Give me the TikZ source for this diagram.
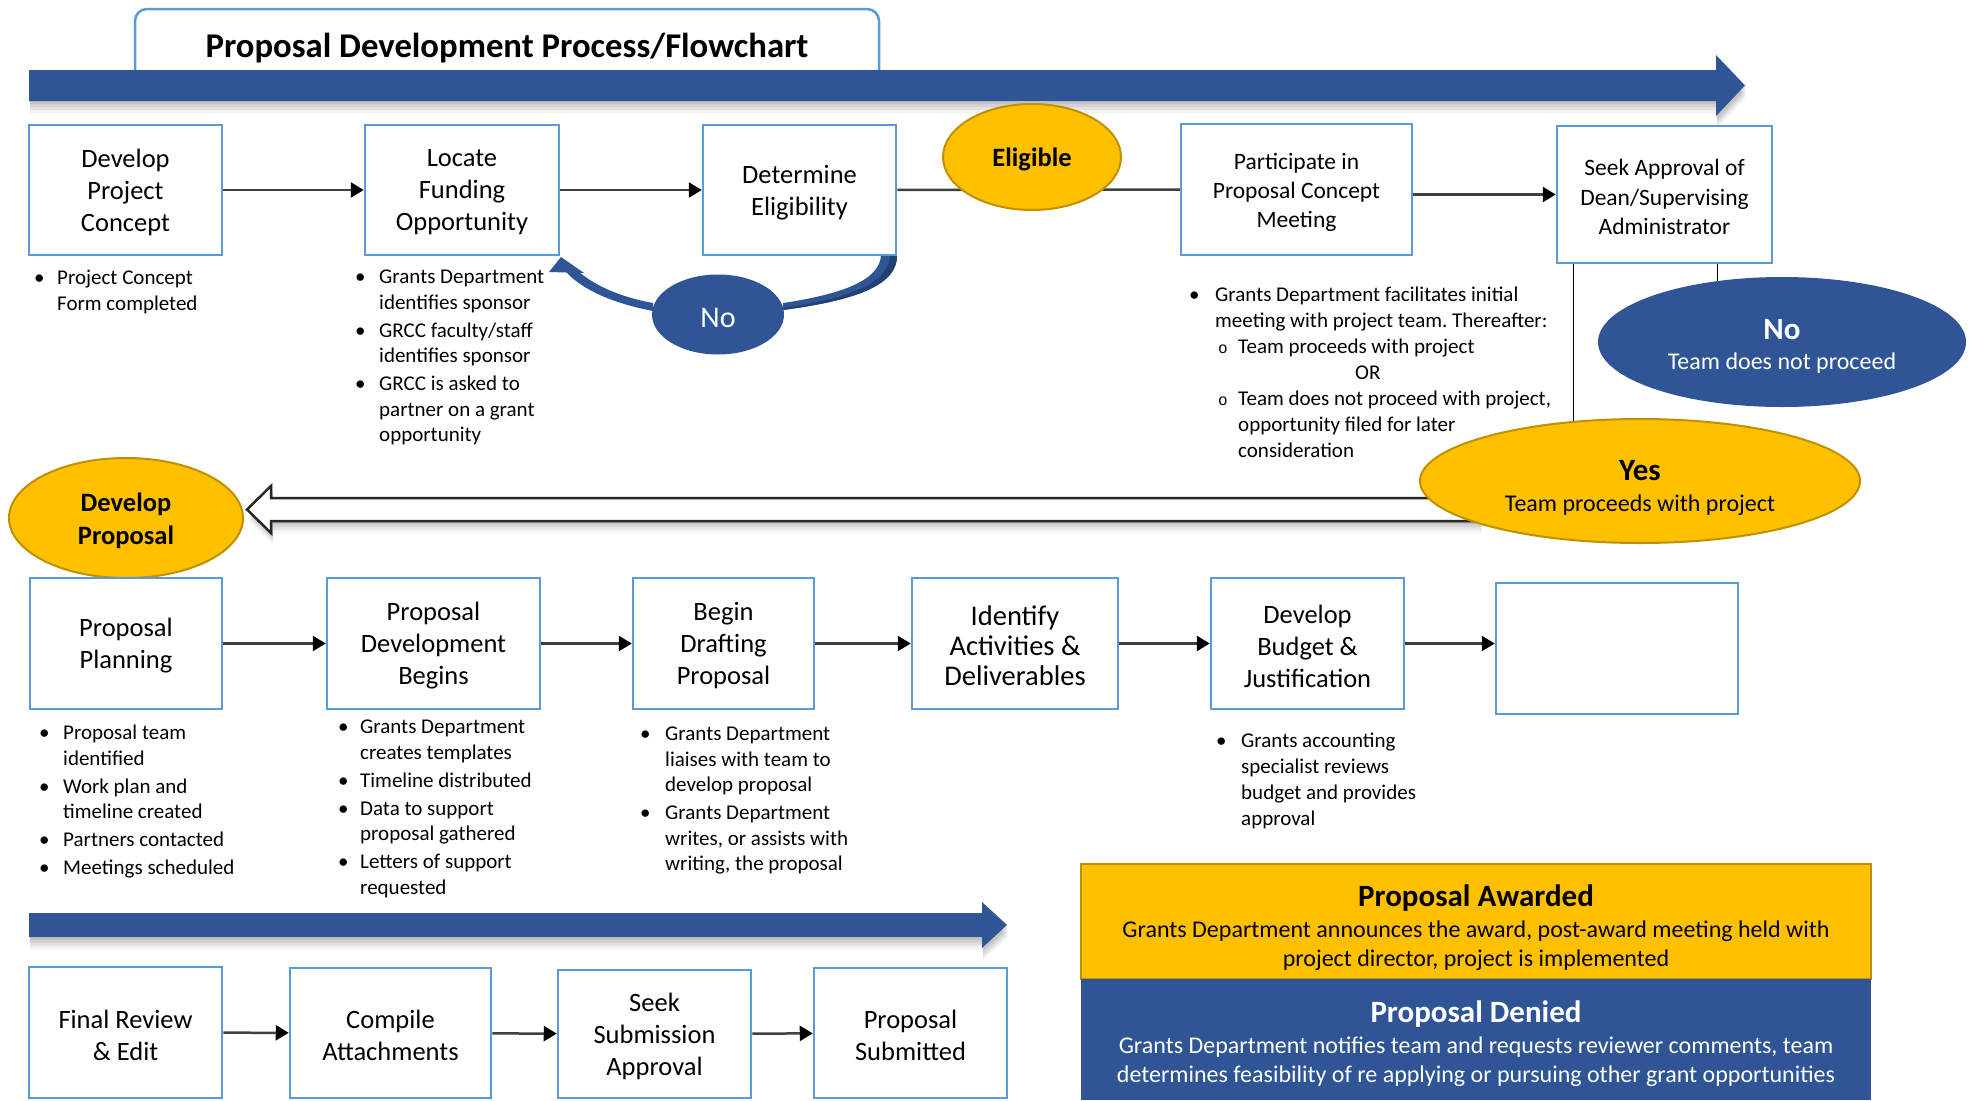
\documentclass[tikz,border=0pt]{standalone}
\usepackage{fontspec}
\setmainfont{Carlito}
\newfontfamily\monof{Liberation Mono}
\frenchspacing
\usetikzlibrary{arrows.meta,shapes.geometric,calc}
\definecolor{dblue}{RGB}{47,85,151}
\definecolor{lblue}{RGB}{91,155,213}
\definecolor{gold}{RGB}{255,192,0}
\definecolor{goldline}{RGB}{191,144,0}
\definecolor{lineg}{RGB}{64,64,64}
\pgfdeclarelayer{bg}
\pgfdeclarelayer{canvas}
\pgfsetlayers{canvas,bg,main}
\tikzset{
  boxst/.style={draw=lblue, line width=2.5pt, fill=white, inner sep=0pt},
  boxtxt/.style={inner sep=0pt, align=center, font=\fontsize{26.5}{32}\selectfont},
  arr/.style={draw=lineg, line width=2.5pt, -{Triangle[length=13pt,width=15pt,color=black]}},
  plainln/.style={draw=lineg, line width=2.5pt},
  thinln/.style={draw=black, line width=1.3pt},
  ell/.style={ellipse, inner sep=0pt, line width=2pt, align=center},
  blist/.style={anchor=base west, inner sep=0pt, font=\fontsize{21}{25.5}\selectfont},
  lbl/.style={inner sep=0pt, align=center}
}
% box with its text: name, x, y, width, height, extra text style, text
\newcommand\bx[7]{%
  \node[boxst, minimum width=#4, minimum height=#5] (#1) at (#2,#3) {};
  \node[boxtxt, #6] (#1t) at ($(#1)+(0,2.5)$) {#7};}
\begin{document}
\begin{tikzpicture}[x=1pt,y=-1pt]
\useasboundingbox (0,0) rectangle (1975,1100);
\begin{pgfonlayer}{canvas}
\fill[white] (0,0) rectangle (1975,1100);
\end{pgfonlayer}

% ---------- title ----------
\node[draw=lblue, line width=2.5pt, rounded corners=12pt, fill=white, minimum width=744pt, minimum height=90pt, inner sep=0pt] (title) at (507,54) {};
\node[lbl, font=\fontsize{34.7}{34.7}\selectfont\bfseries] (titletext) at (507,48) {Proposal Development Process/Flowchart};

% ---------- top blue arrow ----------
\foreach \d/\o in {3/0.07,6/0.07,9/0.06,12/0.05}{
  \fill[black, opacity=\o, shift={(1,\d)}] (29,70) -- (1716,70) -- (1716,55) -- (1745,85.5) -- (1716,116) -- (1716,101) -- (29,101) -- cycle;}
\fill[dblue] (29,70) -- (1716,70) -- (1716,55) -- (1745,85.5) -- (1716,116) -- (1716,101) -- (29,101) -- cycle;

% ---------- row 1 ----------
\bx{dpc}{125.5}{190}{193pt}{130pt}{}{Develop\\Project\\Concept}
\bx{lfo}{462}{190}{194pt}{130pt}{}{Locate\\Funding\\Opportunity}
\bx{de}{799.5}{190}{193pt}{130pt}{}{Determine\\Eligibility}
\bx{part}{1296.5}{189.5}{231pt}{131pt}{font=\fontsize{23.5}{29}\selectfont}{Participate in\\Proposal Concept\\Meeting}
\bx{sa}{1664.5}{194.5}{215pt}{137pt}{font=\fontsize{23.5}{29.5}\selectfont}{Seek Approval of\\Dean/Supervising\\Administrator}

\draw[arr] (dpc) -- (lfo);
\draw[arr] (lfo) -- (de);
\draw[arr] (part.east |- sa.west) -- (sa.west);

\begin{pgfonlayer}{bg}
  \draw[plainln] (de) -- (part);
  % vertical lines from approval box
  \coordinate (v1) at ($(sa.south west)+(18,0)$);
  \coordinate (v2) at ($(sa.south east)+(-56,0)$);
  \draw[thinln] (v1) -- ++(0,200);
  \draw[thinln] (v2) -- ++(0,60);
  % curved "No" arrow
  \fill[dblue] (897,255) .. controls (898,287) and (850,301) .. (783,310) -- (783,303) .. controls (843,294) and (880,280) .. (881,255) -- cycle;
  \fill[dblue!75!black] (897,255) .. controls (898,287) and (850,301) .. (783,310) -- (783,308) .. controls (846,299) and (890,284) .. (890,255) -- cycle;
  \fill[dblue] (653,311) .. controls (612,303) and (583,290) .. (566,272) -- (579,272) .. controls (596,286) and (620,297) .. (653,303) -- cycle;
  \fill[dblue] (561,257) -- (549,272) -- (584,273) -- cycle;
  % open left arrow with shadow
  \foreach \d/\o in {3/0.10,6/0.08,9/0.06,12/0.04}{
    \fill[black, opacity=\o, shift={(2,\d)}] (247,509.5) -- (271,486) -- (271,498) -- (1480,498) -- (1480,521) -- (271,521) -- (271,533) -- cycle;}
  \filldraw[fill=white, draw=black!85, line width=2.5pt, line join=miter] (247,509.5) -- (271,486) -- (271,498) -- (1490,498) -- (1490,521) -- (271,521) -- (271,533) -- cycle;
\end{pgfonlayer}

\node[ell, fill=gold, draw=goldline, minimum width=178pt, minimum height=106pt] (elig) at (1032,157) {};
\node[lbl, font=\fontsize{26.5}{30}\selectfont\bfseries] (eligt) at (1032,159.5) {Eligible};
\node[ell, fill=dblue, draw=dblue, minimum width=130pt, minimum height=78pt] (nol) at (718,314.5) {};
\node[lbl, text=white, font=\fontsize{30}{30}\selectfont] (nolt) at (718,318) {No};

% row 1 bullets
\node[blist] (b1) at (34,284.5) {\begin{tabular}[t]{@{}p{23pt}@{}l@{}}\textbullet & Project Concept\\ & Form completed\end{tabular}};
\node[blist] (b2) at (355,283.5) {\begin{tabular}[t]{@{}p{24pt}@{}l@{}}\textbullet & Grants Department\\ & identifies sponsor\\[2.5pt]
\textbullet & GRCC faculty/staff\\ & identifies sponsor\\[2.5pt]
\textbullet & GRCC is asked to\\ & partner on a grant\\ & opportunity\end{tabular}};
\node[blist, font=\fontsize{21}{26}\selectfont] (b3) at (1189,301.5) {\begin{tabular}[t]{@{}p{26pt}@{}p{23pt}@{}l@{}}
\textbullet & \multicolumn{2}{@{}l@{}}{Grants Department facilitates initial}\\
 & \multicolumn{2}{@{}l@{}}{meeting with project team. Thereafter:}\\
 & \hspace{3pt}{\monof\fontsize{16}{20}\selectfont o} & Team proceeds with project\\
 & & \hspace{117pt}OR\\
 & \hspace{3pt}{\monof\fontsize{16}{20}\selectfont o} & Team does not proceed with project,\\
 & & opportunity filed for later\\
 & & consideration\end{tabular}};

% No / Yes ellipses
\node[ell, fill=dblue, draw=dblue, minimum width=366pt, minimum height=128pt] (nor) at (1782,342) {};
\node[lbl, text=white, font=\fontsize{31}{31}\selectfont\bfseries] (nort) at (1782,330) {No};
\node[lbl, text=white, font=\fontsize{24}{24}\selectfont] (norb) at (1782,363) {Team does not proceed};
\node[ell, fill=gold, draw=goldline, minimum width=440pt, minimum height=124pt] (yes) at (1640,481) {};
\node[lbl, font=\fontsize{31}{31}\selectfont\bfseries] (yest) at (1640,471) {Yes};
\node[lbl, font=\fontsize{24}{24}\selectfont] (yesb) at (1640,505) {Team proceeds with project};

\node[ell, fill=gold, draw=goldline, minimum width=234pt, minimum height=120pt] (dp) at (126,518) {};
\node[lbl, font=\fontsize{26.5}{33}\selectfont\bfseries] (dpt) at (126,520.5) {Develop\\Proposal};

% ---------- row 2 ----------
\bx{pp}{126}{643.5}{192pt}{131pt}{}{Proposal\\Planning}
\bx{pdb}{433.5}{643.5}{213pt}{131pt}{}{Proposal\\Development\\Begins}
\bx{bdp}{723.5}{643.5}{181pt}{131pt}{}{Begin\\Drafting\\Proposal}
\bx{iad}{1015}{643.5}{206pt}{131pt}{font=\fontsize{28.5}{30}\selectfont}{Identify\\Activities \&\\Deliverables}
\bx{dbj}{1307.5}{643.5}{193pt}{131pt}{}{Develop\\Budget \&\\Justification}
\bx{emp}{1617}{648.5}{242pt}{131pt}{}{}

\draw[arr] (pp) -- (pdb);
\draw[arr] (pdb) -- (bdp);
\draw[arr] (bdp) -- (iad);
\draw[arr] (iad) -- (dbj);
\draw[arr] (dbj.east) -- (dbj.east -| emp.west);

% row 2 bullets
\node[blist] (b4) at (39,739.5) {\begin{tabular}[t]{@{}p{24pt}@{}l@{}}\textbullet & Proposal team\\ & identified\\[2.5pt]
\textbullet & Work plan and\\ & timeline created\\[2.5pt]
\textbullet & Partners contacted\\[2.5pt]
\textbullet & Meetings scheduled\end{tabular}};
\node[blist] (b5) at (338,733.5) {\begin{tabular}[t]{@{}p{22pt}@{}l@{}}\textbullet & Grants Department\\ & creates templates\\[2.5pt]
\textbullet & Timeline distributed\\[2.5pt]
\textbullet & Data to support\\ & proposal gathered\\[2.5pt]
\textbullet & Letters of support\\ & requested\end{tabular}};
\node[blist] (b6) at (640,740.5) {\begin{tabular}[t]{@{}p{25pt}@{}l@{}}\textbullet & Grants Department\\ & liaises with team to\\ & develop proposal\\[2.5pt]
\textbullet & Grants Department\\ & writes, or assists with\\ & writing, the proposal\end{tabular}};
\node[blist, font=\fontsize{21}{26}\selectfont] (b7) at (1216,747.5) {\begin{tabular}[t]{@{}p{25pt}@{}l@{}}\textbullet & Grants accounting\\ & specialist reviews\\ & budget and provides\\ & approval\end{tabular}};

% ---------- bottom blue arrow ----------
\foreach \d/\o in {3/0.07,6/0.07,9/0.06,12/0.05}{
  \fill[black, opacity=\o, shift={(1,\d)}] (29,913) -- (982,913) -- (982,902) -- (1007,925) -- (982,948) -- (982,937) -- (29,937) -- cycle;}
\fill[dblue] (29,913) -- (982,913) -- (982,902) -- (1007,925) -- (982,948) -- (982,937) -- (29,937) -- cycle;

% ---------- row 3 ----------
\bx{fre}{125.5}{1032.5}{193pt}{131pt}{}{Final Review\\\& Edit}
\bx{ca}{390.5}{1033}{201pt}{130pt}{}{Compile\\Attachments}
\bx{ssa}{654.5}{1034}{193pt}{128pt}{}{Seek\\Submission\\Approval}
\bx{ps}{910.5}{1033}{193pt}{130pt}{}{Proposal\\Submitted}

\draw[arr] (fre) -- (ca);
\draw[arr] (ca) -- (ssa);
\draw[arr] (ssa) -- (ps);

% ---------- outcome panel ----------
\node[draw=goldline, fill=gold, line width=1.5pt, minimum width=790pt, minimum height=115pt, inner sep=0pt] (aw) at (1476,921.5) {};
\node[fill=dblue, minimum width=790pt, minimum height=121pt, inner sep=0pt] (dn) at (1476,1039.5) {};
\node[lbl, font=\fontsize{31}{31}\selectfont\bfseries] (awt) at (1476,898) {Proposal Awarded};
\node[lbl, font=\fontsize{24}{29}\selectfont] (awb) at (1476,946) {Grants Department announces the award, post-award meeting held with\\project director, project is implemented};
\node[lbl, text=white, font=\fontsize{31}{31}\selectfont\bfseries] (dnt) at (1476,1014) {Proposal Denied};
\node[lbl, text=white, font=\fontsize{24}{29}\selectfont] (dnb) at (1476,1062) {Grants Department notifies team and requests reviewer comments, team\\determines feasibility of re applying or pursuing other grant opportunities};
\end{tikzpicture}
\end{document}
